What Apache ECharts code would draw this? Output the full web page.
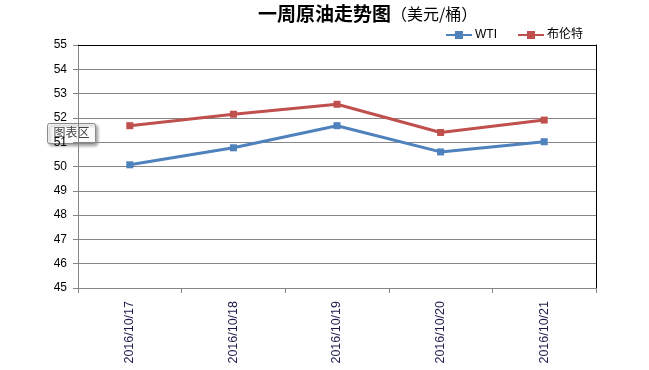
<!DOCTYPE html>
<html>
<head>
<meta charset="utf-8">
<script src="https://cdn.jsdelivr.net/npm/echarts@6/dist/echarts.min.js"></script>
<style>html,body{margin:0;padding:0;background:#fff;}#c{width:649px;height:370px;}</style>
</head>
<body>
<div id="c"></div>
<script>
const categories = ['2016/10/17', '2016/10/18', '2016/10/19', '2016/10/20', '2016/10/21'];
const wti = [50.07, 50.77, 51.68, 50.60, 51.02];
const brent = [51.68, 52.15, 52.56, 51.40, 51.91];
const seriesNames = ['WTI', '布伦特'];
const yMin = 45, yMax = 55, yStep = 1;

const chart = echarts.init(document.getElementById('c'), null, {renderer: 'canvas'});
const font = 'Arial, "Liberation Sans", "Noto Sans CJK SC", sans-serif';
chart.setOption({
  animation: false,
  backgroundColor: '#ffffff',
  title: {
    text: '{a|一周原油走势图}{b|（美元/桶）}',
    left: 253, top: -1,
    textStyle: {
      fontWeight: 'normal',
      rich: {
        a: {fontSize: 19, fontWeight: 'bold', color: '#000', fontFamily: '"Noto Sans CJK SC", sans-serif'},
        b: {fontSize: 16, fontWeight: 'normal', color: '#000', fontFamily: '"Noto Sans CJK SC", sans-serif'}
      }
    }
  },
  legend: {
    data: seriesNames,
    left: 440, top: 24,
    itemWidth: 26, itemHeight: 10, itemGap: 20,
    textStyle: {fontSize: 12, color: '#000', fontFamily: font, padding: [0, 0, 0, -2]}
  },
  grid: {left: 78, right: 53, top: 45, bottom: 82, containLabel: false},
  xAxis: [{
    type: 'category', data: categories, boundaryGap: true,
    axisLine: {lineStyle: {color: '#868686', width: 1}},
    axisTick: {show: true, length: 5, inside: false, lineStyle: {color: '#868686'}},
    axisLabel: {rotate: 90, fontSize: 12.5, margin: 13, color: '#1a1a4a', fontFamily: font},
    splitLine: {show: false}
  }, {
    type: 'category', data: categories, position: 'top',
    axisLine: {show: true, lineStyle: {color: '#000', width: 1}},
    axisTick: {show: false}, axisLabel: {show: false}, splitLine: {show: false}
  }],
  yAxis: [{
    type: 'value', min: yMin, max: yMax, interval: yStep,
    axisLine: {show: true, lineStyle: {color: '#868686', width: 1}},
    axisTick: {show: true, length: 5, lineStyle: {color: '#868686'}},
    axisLabel: {fontSize: 12, margin: 11, color: '#000', fontFamily: font},
    splitLine: {show: true, lineStyle: {color: '#868686', width: 1}}
  }, {
    type: 'value', min: yMin, max: yMax, interval: yStep, position: 'right',
    axisLine: {show: true, lineStyle: {color: '#000', width: 1}},
    axisTick: {show: false}, axisLabel: {show: false}, splitLine: {show: false}
  }],
  series: [{
    name: seriesNames[0], type: 'line', data: wti,
    symbol: 'rect', symbolSize: 7,
    lineStyle: {color: '#4F81BD', width: 3},
    itemStyle: {color: '#4F81BD'}
  }, {
    name: seriesNames[1], type: 'line', data: brent,
    symbol: 'rect', symbolSize: 7,
    lineStyle: {color: '#C0504D', width: 3},
    itemStyle: {color: '#C0504D'}
  }],
  graphic: [{
    type: 'group', left: 47, top: 123, z: 100,
    children: [{
      type: 'rect', shape: {x: 0, y: 0, width: 48, height: 20, r: 2},
      style: {fill: '#fbfbfb', stroke: '#8a8a8a', lineWidth: 1, shadowBlur: 3, shadowOffsetX: 2, shadowOffsetY: 2, shadowColor: 'rgba(0,0,0,0.35)'}
    }, {
      type: 'text', x: 6, y: 3,
      style: {text: '图表区', fontSize: 12, fill: '#444', fontFamily: '"Noto Sans CJK SC", sans-serif'}
    }]
  }]
});
</script>
</body>
</html>
